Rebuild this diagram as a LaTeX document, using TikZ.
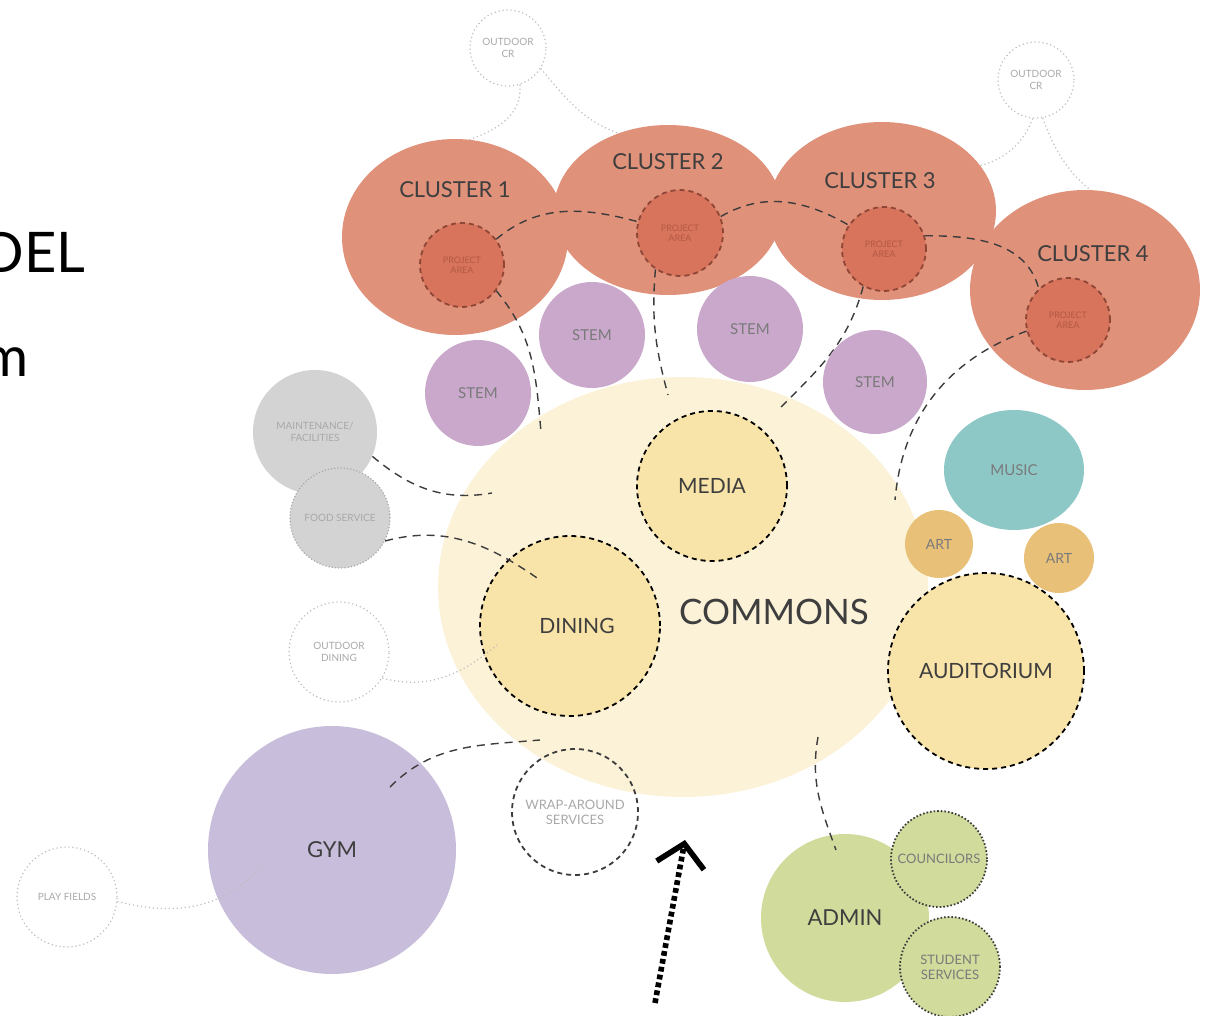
\documentclass[tikz,border=0pt]{standalone}
\usepackage{fontspec}
\setmainfont{Lato}
\usetikzlibrary{shapes.geometric,arrows.meta}
\definecolor{clustercol}{HTML}{E0917A}
\definecolor{projcol}{HTML}{D8735C}
\definecolor{projedge}{HTML}{8E4636}
\definecolor{projtext}{HTML}{B25A45}
\definecolor{stemcol}{HTML}{C9A8CB}
\definecolor{commonscol}{HTML}{FCF2D8}
\definecolor{spacecol}{HTML}{F8E3A8}
\definecolor{musiccol}{HTML}{8DC8C7}
\definecolor{artcol}{HTML}{E8C078}
\definecolor{greycol}{HTML}{D3D3D3}
\definecolor{gymcol}{HTML}{C8BEDB}
\definecolor{admincol}{HTML}{D0DB9C}
\definecolor{labelcol}{HTML}{3E3E3E}
\definecolor{softcol}{HTML}{7A7A7A}
\definecolor{palecol}{HTML}{A8A8A8}
\definecolor{linkcol}{HTML}{3C3C3C}
\definecolor{faintcol}{HTML}{BDBDBD}

\begin{document}
\begin{tikzpicture}[
    x=0.5pt, y=-0.5pt,
    bub/.style={circle, inner sep=0pt, minimum size=#1pt, align=center},
    oval/.style 2 args={ellipse, inner sep=0pt, minimum width=#1pt, minimum height=#2pt, align=center},
    cluster/.style={fill=clustercol},
    project/.style={fill=projcol, draw=projedge, line width=0.9pt, dash pattern=on 2.5pt off 2pt, text=projtext, font=\fontsize{4.5}{5}\selectfont},
    stem/.style={fill=stemcol, text=softcol, font=\fontsize{7.5}{8.5}\selectfont},
    space/.style={fill=spacecol, draw=black, line width=0.9pt, dash pattern=on 2.5pt off 2pt, text=labelcol, font=\fontsize{10.5}{12}\selectfont},
    support/.style={fill=greycol, text=palecol, font=\fontsize{5}{6}\selectfont},
    outdoor/.style={draw=faintcol, line width=0.6pt, dash pattern=on 0.6pt off 1.4pt, text=palecol, font=\fontsize{5}{6}\selectfont},
    office/.style={fill=admincol, draw=linkcol, line width=0.9pt, dash pattern=on 0.8pt off 1pt, text=softcol, font=\fontsize{6.5}{7.5}\selectfont},
    big/.style={text=labelcol, font=\fontsize{11}{13}\selectfont},
    link/.style={draw=linkcol, line width=0.7pt, dash pattern=on 4pt off 3pt},
    faint/.style={draw=faintcol, line width=0.6pt, dash pattern=on 0.6pt off 1.4pt}
]
    \useasboundingbox (0,0) rectangle (1212,1016);

    \node (del) [anchor=base east, inner sep=0pt, font=\fontsize{28}{30}\selectfont] at (86,273) {DEL};
    \node (mm) [anchor=base east, inner sep=0pt, font=\fontsize{28}{30}\selectfont] at (29,377) {m};

    \node (ocr1) [bub=38, outdoor] at (508,48) {OUTDOOR\\CR};
    \node (ocr2) [bub=38, outdoor] at (1036,80) {OUTDOOR\\CR};
    \coordinate (k13) at (445,147);
    \coordinate (k14) at (620,134);
    \coordinate (k15) at (952,169);
    \coordinate (k16) at (1114,206);
    \draw[faint] (ocr1.-72) to[out=-85,in=15] (k13);
    \draw[faint] (ocr1.-32) to[out=-50,in=160] (k14);
    \draw[faint] (ocr2.-95) to[out=-110,in=0] (k15);
    \draw[faint] (ocr2.-80) to[out=-70,in=150] (k16);

    \node (cl1) [oval={113}{98}, cluster] at (455,237) {};
    \node (cl2) [oval={114}{85}, cluster] at (668,210) {};
    \node (cl3) [oval={114}{89}, cluster] at (882,211) {};
    \node (cl4) [oval={115}{100}, cluster] at (1085,290) {};
    \node (cl1txt) [big] at (455,190) {CLUSTER 1};
    \node (cl2txt) [big] at (668,162) {CLUSTER 2};
    \node (cl3txt) [big] at (880,181) {CLUSTER 3};
    \node (cl4txt) [big] at (1093,254) {CLUSTER 4};

    \node (pa1) [bub=42, project] at (462,265) {PROJECT\\AREA};
    \node (pa2) [bub=43, project] at (680,233) {PROJECT\\AREA};
    \node (pa3) [bub=42, project] at (884,249) {PROJECT\\AREA};
    \node (pa4) [bub=42, project] at (1068,320) {PROJECT\\AREA};

    \node (commons) [oval={245}{210}, fill=commonscol] at (683,587) {};
    \node (commonstxt) [text=labelcol, font=\fontsize{17.5}{20}\selectfont] at (774,612) {COMMONS};

    \coordinate (k1) at (541,432);
    \coordinate (k2) at (668,395);
    \coordinate (k3) at (778,410);
    \coordinate (k4) at (895,500);
    \draw[link] (pa1.37) to[out=40,in=165] (pa2.165);
    \draw[link] (pa2.22) to[out=30,in=150] (pa3.146);
    \draw[link] (pa3.18) to[out=0,in=105] (pa4.133);
    \draw[link] (pa1.-37) to[out=-50,in=95] (k1);
    \draw[link] (pa2.-124) to[out=-95,in=105] (k2);
    \draw[link] (pa3.-119) to[out=-105,in=45] (k3);
    \draw[link] (pa4.195) to[out=200,in=85] (k4);

    \node (stem1) [bub=53, stem] at (478,393) {STEM};
    \node (stem2) [bub=53, stem] at (592,335) {STEM};
    \node (stem3) [bub=53, stem] at (750,329) {STEM};
    \node (stem4) [bub=52, stem] at (875,382) {STEM};

    \node (maint) [bub=62, support] at (315,432) {MAINTENANCE/\\FACILITIES};
    \node (food) [bub=50, support, draw=palecol, line width=0.6pt, dash pattern=on 0.6pt off 1pt] at (340,518) {FOOD SERVICE};
    \node (odining) [bub=50, outdoor] at (339,652) {OUTDOOR\\DINING};

    \node (media) [bub=75, space] at (712,486) {MEDIA};
    \node (dining) [bub=90, space, inner xsep=0pt, text width=60pt] at (570,626) {\hspace*{7pt}DINING};
    \node (audi) [bub=98, space] at (986,671) {AUDITORIUM};
    \node (music) [oval={70}{60}, fill=musiccol, text=softcol, font=\fontsize{7.5}{8.5}\selectfont] at (1014,470) {MUSIC};
    \node (art1) [bub=34, fill=artcol, text=softcol, font=\fontsize{7}{8}\selectfont] at (939,544) {ART};
    \node (art2) [bub=35, fill=artcol, text=softcol, font=\fontsize{7}{8}\selectfont] at (1059,558) {ART};

    \coordinate (k5) at (492,493);
    \coordinate (k6) at (540,580);
    \coordinate (k7) at (497,645);
    \draw[link] (maint.-23) to[out=-40,in=190] (k5);
    \draw[link] (food.-27) to[out=15,in=145] (k6);
    \draw[faint] (odining.-31) to[out=-15,in=220] (k7);

    \node (wrap) [bub=63, draw=linkcol, line width=0.9pt, dash pattern=on 2.5pt off 2pt, text=palecol, font=\fontsize{6.5}{7.5}\selectfont] at (575,812) {WRAP-AROUND\\SERVICES};

    \node (gym) [bub=124, fill=gymcol, big] at (332,850) {GYM};
    \node (fields) [bub=50, outdoor] at (67,897) {PLAY FIELDS};
    \coordinate (k8) at (390,787);
    \coordinate (k9) at (540,740);
    \coordinate (k10) at (262,865);
    \draw[link] (k8) to[out=45,in=185] (k9);
    \draw[faint] (fields.-5) to[out=-15,in=230] (k10);

    \node (admin) [bub=84, fill=admincol, big] at (845,918) {ADMIN};
    \node (counc) [bub=48, office] at (939,859) {COUNCILORS};
    \node (student) [bub=50, office] at (950,967) {STUDENT\\SERVICES};
    \coordinate (k11) at (818,737);
    \coordinate (k12) at (836,850);
    \draw[link] (k11) to[out=-100,in=110] (k12);

    \coordinate (entA) at (655,1003);
    \coordinate (entB) at (685,840);
    \draw[line width=2.8pt, dash pattern=on 2.4pt off 1.6pt, -{Straight Barb[length=11pt, width=24pt, line width=2.8pt]}] (entA) -- (entB);
\end{tikzpicture}
\end{document}
